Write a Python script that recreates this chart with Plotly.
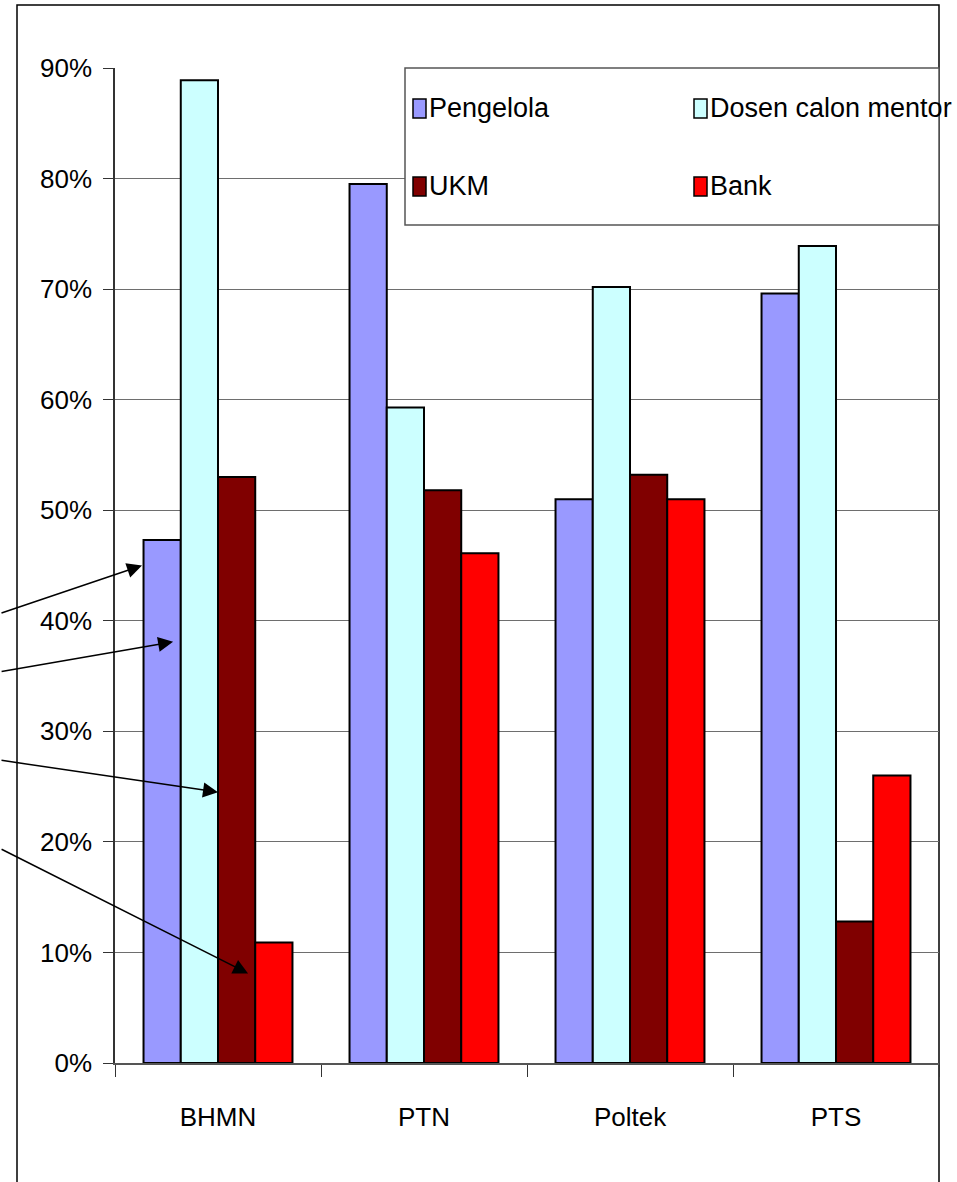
import plotly.graph_objects as go

categories = ["BHMN", "PTN", "Poltek", "PTS"]
pengelola = [0.473, 0.795, 0.510, 0.696]
dosen = [0.889, 0.593, 0.702, 0.739]
ukm = [0.530, 0.518, 0.532, 0.128]
bank = [0.109, 0.461, 0.510, 0.260]

series_names = ["Pengelola", "Dosen calon mentor", "UKM", "Bank"]
series_values = [pengelola, dosen, ukm, bank]
series_colors = ["#9999FF", "#CCFFFF", "#800000", "#FF0000"]

y_ticks = [0, 0.1, 0.2, 0.3, 0.4, 0.5, 0.6, 0.7, 0.8, 0.9]
y_tick_labels = ["0%", "10%", "20%", "30%", "40%", "50%", "60%", "70%", "80%", "90%"]

FONT = "Liberation Sans, Arial, sans-serif"

W, H = 957, 1182
L, R, T, B = 115, 18, 68, 119
PW, PH = W - L - R, H - T - B


def px_x(px):
    return (px - L) / PW


def px_y(py):
    return (H - B - py) / PH


fig = go.Figure()
for name, vals, col in zip(series_names, series_values, series_colors):
    fig.add_trace(go.Bar(
        x=categories, y=vals, name=name,
        marker=dict(color=col, line=dict(color="#000000", width=2)),
        showlegend=False,
    ))

shapes = []
# outer frame
shapes.append(dict(type="rect", xref="paper", yref="paper",
                   x0=px_x(17), x1=px_x(939), y0=px_y(1200), y1=px_y(5),
                   line=dict(color="#000000", width=1.5), fillcolor="rgba(0,0,0,0)",
                   layer="below"))
# legend box
shapes.append(dict(type="rect", xref="paper", yref="paper",
                   x0=px_x(405), x1=px_x(939), y0=px_y(225), y1=px_y(68),
                   line=dict(color="#555555", width=1.5), fillcolor="#FFFFFF",
                   layer="above"))

annotations = []
legend_pos = [(413, 108), (694, 108), (413, 186), (694, 186)]
for (lx, ly), name, col in zip(legend_pos, series_names, series_colors):
    shapes.append(dict(type="rect", xref="paper", yref="paper",
                       x0=px_x(lx), x1=px_x(lx + 13), y0=px_y(ly + 10), y1=px_y(ly - 9),
                       line=dict(color="#000000", width=1.5), fillcolor=col, layer="above"))
    annotations.append(dict(xref="paper", yref="paper", x=px_x(lx + 14), y=px_y(ly),
                            text=name, showarrow=False, xanchor="left", yanchor="middle",
                            font=dict(family=FONT, size=27, color="#000000")))

# arrows pointing to the first group's bars
arrow_tips = [(-0.369, 0.450, -142, 48), (-0.218, 0.381, -173, 30),
              (0.0, 0.245, -218, -32), (0.146, 0.081, -248, -125)]
for x, y, ax, ay in arrow_tips:
    annotations.append(dict(x=x, y=y, xref="x", yref="y", ax=ax, ay=ay,
                            showarrow=True, arrowhead=2, arrowsize=2, arrowwidth=1.5,
                            arrowcolor="#000000", text=""))

fig.update_layout(
    width=W, height=H,
    margin=dict(l=L, r=R, t=T, b=B, pad=0),
    paper_bgcolor="#FFFFFF", plot_bgcolor="#FFFFFF",
    barmode="group", bargap=0.277, bargroupgap=0,
    font=dict(family=FONT, size=26, color="#000000"),
    shapes=shapes, annotations=annotations,
    xaxis=dict(
        showline=True, linecolor="#555555", linewidth=1.5,
        ticks="outside", ticklen=12, tickwidth=1, tickcolor="#333333",
        tickson="boundaries", showgrid=False,
        ticklabelstandoff=30,
        tickfont=dict(family=FONT, size=26, color="#000000"),
        range=[-0.5, 3.5],
    ),
    yaxis=dict(
        range=[0, 0.9], tickvals=y_ticks, ticktext=y_tick_labels,
        showline=True, linecolor="#333333", linewidth=1.5,
        ticks="outside", ticklen=10, tickwidth=1, tickcolor="#333333",
        showgrid=True, gridcolor="#6E6E6E", gridwidth=1,
        zeroline=False,
        ticklabelstandoff=6,
        tickfont=dict(family=FONT, size=26, color="#000000"),
    ),
)

fig.write_html("out.html")
